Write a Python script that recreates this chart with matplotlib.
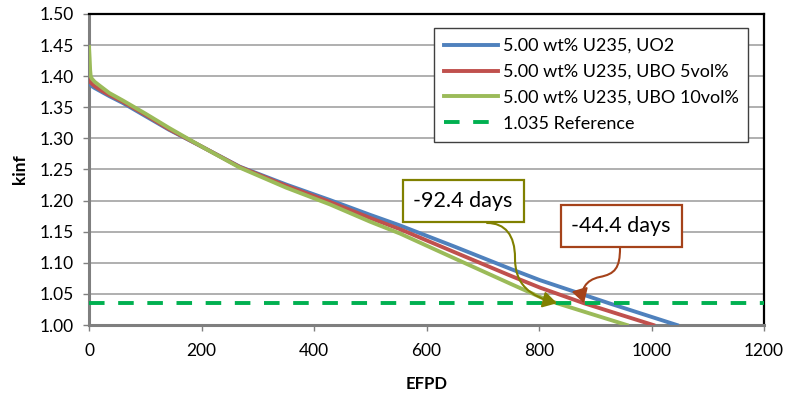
import numpy as np
import matplotlib
matplotlib.use("Agg")
import matplotlib.pyplot as plt
from matplotlib.path import Path
from matplotlib.patches import FancyArrowPatch

plt.rcParams['font.family'] = ['Lato', 'DejaVu Sans']

# kinf vs EFPD for the three fuel variants
efpd_uo2 = [0, 2, 5, 10, 20, 36, 60, 100, 142, 200, 268, 350, 428, 500, 553,
            650, 750, 802, 924.4, 1045]
kinf_uo2 = [1.390, 1.387, 1.384, 1.381, 1.376, 1.368, 1.357, 1.336, 1.314, 1.287,
            1.2545, 1.226, 1.201, 1.177, 1.160, 1.126, 1.090, 1.072, 1.035, 1.000]

efpd_ubo5 = [0, 2, 5, 10, 20, 36, 60, 100, 142, 200, 268, 350, 428, 500, 553,
             650, 750, 802, 880.0, 1003]
kinf_ubo5 = [1.395, 1.391, 1.388, 1.384, 1.378, 1.370, 1.359, 1.338, 1.315, 1.287,
             1.254, 1.224, 1.198, 1.172, 1.154, 1.117, 1.079, 1.060, 1.035, 1.000]

efpd_ubo10 = [0, 1, 2, 3, 5, 10, 20, 36, 60, 100, 142, 200, 268, 350, 428, 500,
              553, 650, 750, 802, 832.0, 956]
kinf_ubo10 = [1.447, 1.430, 1.410, 1.400, 1.396, 1.391, 1.384, 1.373, 1.361, 1.340,
              1.317, 1.287, 1.253, 1.221, 1.194, 1.166, 1.147, 1.107, 1.066, 1.045,
              1.035, 1.000]

k_ref = 1.035
labels = ["5.00 wt% U235, UO2", "5.00 wt% U235, UBO 5vol%",
          "5.00 wt% U235, UBO 10vol%", "1.035 Reference"]

# EFPD where each curve reaches the reference kinf
cross_uo2 = np.interp(-k_ref, -np.array(kinf_uo2), efpd_uo2)
cross_ubo5 = np.interp(-k_ref, -np.array(kinf_ubo5), efpd_ubo5)
cross_ubo10 = np.interp(-k_ref, -np.array(kinf_ubo10), efpd_ubo10)

fig = plt.figure(figsize=(7.87, 3.94), dpi=100)
ax = fig.add_axes([0.1131, 0.1751, 0.8577, 0.7894])

ax.plot(efpd_uo2, kinf_uo2, color="#4F81BD", lw=2.8, label=labels[0], zorder=3)
ax.plot(efpd_ubo5, kinf_ubo5, color="#C0504D", lw=2.8, label=labels[1], zorder=3)
ax.plot(efpd_ubo10, kinf_ubo10, color="#9BBB59", lw=2.8, label=labels[2], zorder=3)
ax.axhline(k_ref, color="#00B050", lw=2.8, dashes=(4, 3.5), label=labels[3], zorder=3)

ax.set_xlim(0, 1200)
ax.set_ylim(1.0, 1.5)
ax.set_xticks(np.arange(0, 1201, 200))
ax.set_yticks(np.arange(1.0, 1.501, 0.05))
ax.yaxis.set_major_formatter(plt.FormatStrFormatter("%.2f"))
ax.grid(axis="y", color="#9A9A9A", lw=1.1)
ax.set_axisbelow(True)

for side in ["left", "bottom"]:
    ax.spines[side].set_color("#7F7F7F")
    ax.spines[side].set_linewidth(2.2)
for side in ["top", "right"]:
    ax.spines[side].set_color("black")
    ax.spines[side].set_linewidth(1.6)
ax.tick_params(axis="both", direction="out", length=4, width=1, color="#7F7F7F",
               labelsize=12.5)
ax.tick_params(axis="x", pad=9)
ax.tick_params(axis="y", pad=7)

ax.set_xlabel("EFPD", fontsize=12, fontweight="bold", labelpad=12)
ax.set_ylabel("kinf", fontsize=12.5, fontweight="bold", labelpad=8)

leg = ax.legend(loc="upper right", bbox_to_anchor=(0.977, 0.955), fontsize=13,
                frameon=True, fancybox=False, framealpha=1, edgecolor="#404040",
                handlelength=3.0, handletextpad=0.25, labelspacing=0.55,
                borderpad=0.55, borderaxespad=0)
leg.get_frame().set_linewidth(1.0)

# callouts with the EFPD lost relative to UO2
d10 = cross_ubo10 - cross_uo2
d5 = cross_ubo5 - cross_uo2

ax.text(665, 1.1994, "%.1f days" % d10, fontsize=15.5, ha="center", va="center",
        bbox=dict(boxstyle="square,pad=0.5", fc="white", ec="#808000", lw=1.6),
        zorder=6)
ax.text(946, 1.159, "%.1f days" % d5, fontsize=15.5, ha="center", va="center",
        bbox=dict(boxstyle="square,pad=0.5", fc="white", ec="#A5421A", lw=1.6),
        zorder=6)

codes = [Path.MOVETO, Path.CURVE4, Path.CURVE4, Path.CURVE4,
         Path.CURVE4, Path.CURVE4, Path.CURVE4]
green_path = Path([(707.6, 1.164), (739.6, 1.164), (757.3, 1.1447), (757.3, 1.1077),
                   (757.3, 1.0643), (784, 1.0466), (cross_ubo10, k_ref)], codes)
red_path = Path([(944, 1.1238), (944, 1.0916), (935, 1.082), (908, 1.0772),
                 (882, 1.0723), (873, 1.056), (cross_ubo5, k_ref)], codes)
for p, c in [(green_path, "#808000"), (red_path, "#A5421A")]:
    arr = FancyArrowPatch(path=p, arrowstyle="-|>,head_length=0.6,head_width=0.35",
                          mutation_scale=14, color=c, lw=1.5, zorder=5)
    ax.add_patch(arr)

fig.savefig("out.png", dpi=100)
